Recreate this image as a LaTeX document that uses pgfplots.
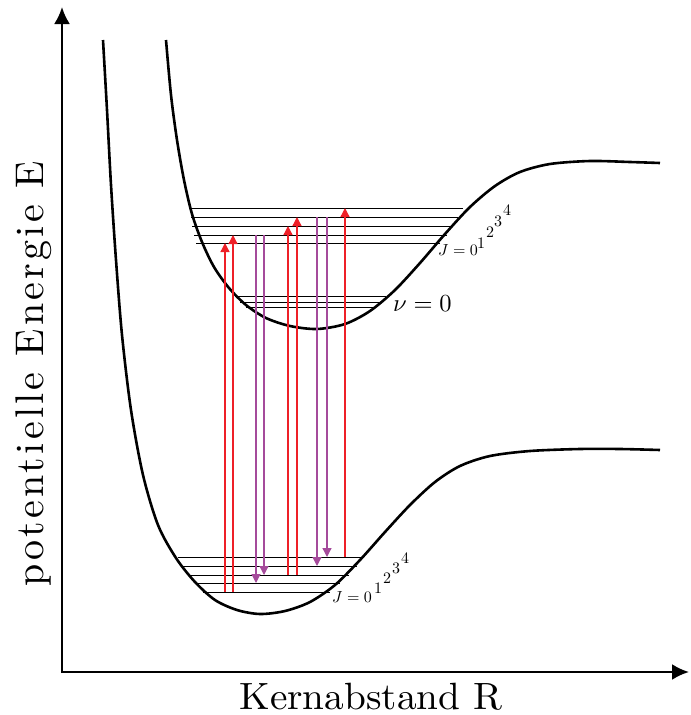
\documentclass[border=0pt]{standalone}
\usepackage{fontspec}
\usepackage{pgfplots}
\pgfplotsset{compat=1.18}
\usetikzlibrary{arrows.meta}
\newfontfamily\lblfont[LetterSpace=8]{Latin Modern Roman}
\definecolor{arrred}{RGB}{238,32,40}
\definecolor{arrpurp}{RGB}{165,75,155}
\begin{document}
\begin{tikzpicture}
\begin{axis}[
  width=689pt, height=715pt, scale only axis,
  xmin=0, xmax=689, ymin=0, ymax=715,
  hide axis, clip=false,
  y dir=reverse,
]
% invisible frame fixing the picture's extent
\addplot[draw=none, forget plot] coordinates {(0,0) (689,715)};
\path (axis cs:0,0) rectangle (axis cs:689,715);
% axes
\addplot[black, line width=2.4pt, -{Latex[length=17pt,width=16pt]}] coordinates {(62,673) (62,7)};
\addplot[black, line width=2.4pt, -{Latex[length=17pt,width=16pt]}] coordinates {(61,672) (689,672)};
% ground state potential
\addplot[black, line width=2.6pt, smooth, tension=0.5] coordinates {
(103,40) (107,110) (111,185) (116,260) (122,335) (131,410) (143,475) (158,525)
(176,558) (195,582) (215,600) (237,610) (260,614) (285,611) (310,602) (335,585)
(360,560) (385,532) (410,505) (435,482) (460,466) (490,456) (530,451) (580,449)
(620,449) (660,450)};
% excited state potential
\addplot[black, line width=2.6pt, smooth, tension=0.5] coordinates {
(166,40) (171,95) (177,140) (184,180) (192,214) (202,242) (214,267) (229,288)
(246,305) (266,318) (290,326) (317,329) (345,324) (370,311) (395,290) (420,263) (445,234)
(470,207) (495,186) (520,172) (550,164) (590,161) (630,162) (660,163)};
% upper rotational levels
\addplot[black, line width=0.9pt] coordinates {(190,208) (463,208)};
\addplot[black, line width=0.9pt] coordinates {(191,217) (458,217)};
\addplot[black, line width=0.9pt] coordinates {(192,226) (452,226)};
\addplot[black, line width=0.9pt] coordinates {(194,235) (447,235)};
\addplot[black, line width=0.9pt] coordinates {(196,243) (440,243)};
% nu = 0 levels
\addplot[black, line width=0.9pt] coordinates {(235,296) (386,296)};
\addplot[black, line width=0.9pt] coordinates {(240,302) (380,302)};
\addplot[black, line width=0.9pt] coordinates {(246,307) (373,307)};
% lower rotational levels
\addplot[black, line width=0.9pt] coordinates {(178,557) (364,557)};
\addplot[black, line width=0.9pt] coordinates {(183,566) (357,566)};
\addplot[black, line width=0.9pt] coordinates {(188,575) (349,575)};
\addplot[black, line width=0.9pt] coordinates {(195,583) (340,583)};
\addplot[black, line width=0.9pt] coordinates {(203,592) (330,592)};
% absorption (red, upward)
\addplot[arrred, line width=1.3pt, -{Triangle[length=9pt,width=9pt]}] coordinates {(225,592) (225,243)};
\addplot[arrred, line width=1.3pt, -{Triangle[length=9pt,width=9pt]}] coordinates {(233,592) (233,235)};
\addplot[arrred, line width=1.3pt, -{Triangle[length=9pt,width=9pt]}] coordinates {(288,575) (288,226)};
\addplot[arrred, line width=1.3pt, -{Triangle[length=9pt,width=9pt]}] coordinates {(297,575) (297,217)};
\addplot[arrred, line width=1.3pt, -{Triangle[length=9pt,width=9pt]}] coordinates {(345,557) (345,208)};
% emission (purple, downward)
\addplot[arrpurp, line width=1.3pt, -{Triangle[length=9pt,width=9pt]}] coordinates {(256,235) (256,583)};
\addplot[arrpurp, line width=1.3pt, -{Triangle[length=9pt,width=9pt]}] coordinates {(264,235) (264,575)};
\addplot[arrpurp, line width=1.3pt, -{Triangle[length=9pt,width=9pt]}] coordinates {(317,217) (317,566)};
\addplot[arrpurp, line width=1.3pt, -{Triangle[length=9pt,width=9pt]}] coordinates {(327,217) (327,557)};
% labels
\node[anchor=base west, inner sep=0pt] at (axis cs:393,311) {\scalebox{2.45}{$\nu = 0$}};
\node[anchor=base west, inner sep=0pt] at (axis cs:438,255) {\scalebox{1.6}{$J = 0$}};
\node[anchor=base west, inner sep=0pt] at (axis cs:477,248) {\scalebox{1.6}{$1$}};
\node[anchor=base west, inner sep=0pt] at (axis cs:486,237) {\scalebox{1.6}{$2$}};
\node[anchor=base west, inner sep=0pt] at (axis cs:494,226) {\scalebox{1.6}{$3$}};
\node[anchor=base west, inner sep=0pt] at (axis cs:503,215) {\scalebox{1.6}{$4$}};
\node[anchor=base west, inner sep=0pt] at (axis cs:332,602) {\scalebox{1.6}{$J = 0$}};
\node[anchor=base west, inner sep=0pt] at (axis cs:374,593) {\scalebox{1.6}{$1$}};
\node[anchor=base west, inner sep=0pt] at (axis cs:383,583) {\scalebox{1.6}{$2$}};
\node[anchor=base west, inner sep=0pt] at (axis cs:392,573) {\scalebox{1.6}{$3$}};
\node[anchor=base west, inner sep=0pt] at (axis cs:401,563) {\scalebox{1.6}{$4$}};
\node[anchor=base, inner sep=0pt] at (axis cs:371,709) {\scalebox{3.93}[3.8]{\rmfamily Kernabstand R}};
\node[anchor=base, rotate=90, inner sep=0pt] at (axis cs:43,374) {\scalebox{4.0}{\lblfont potentielle Energie E}};
\end{axis}
\end{tikzpicture}
\end{document}
